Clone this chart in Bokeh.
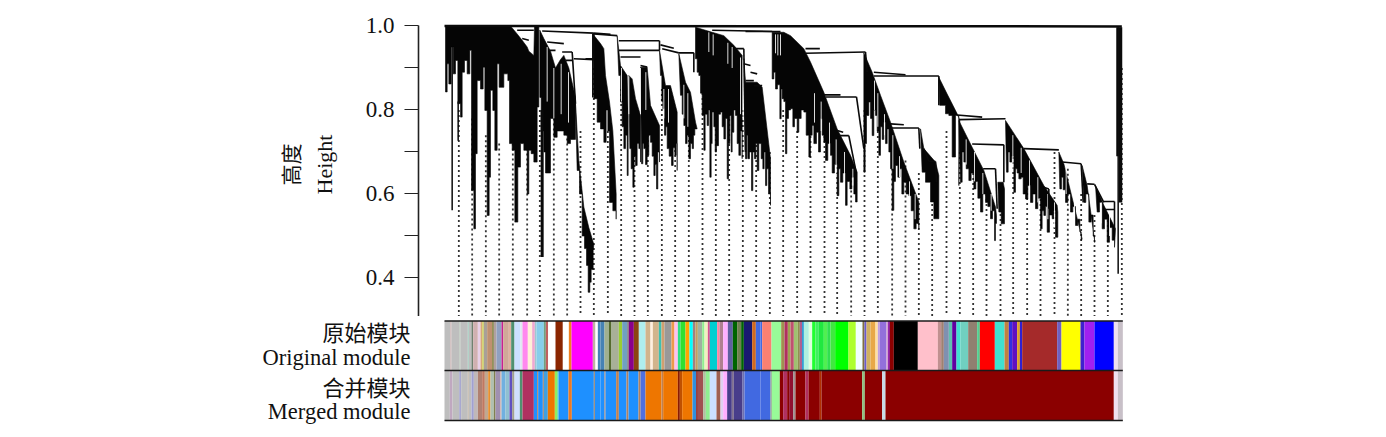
from bokeh.core.properties import value
from bokeh.embed import file_html
from bokeh.layouts import column
from bokeh.models import FixedTicker, LinearAxis, Range1d
from bokeh.plotting import figure
from bokeh.resources import INLINE

# ---- y axis
tick_values = [1.0, 0.9, 0.8, 0.7, 0.6, 0.5, 0.4]
tick_labels = ["1.0", "", "0.8", "", "0.6", "", "0.4"]

# ---- colour rows: module colour and number of genes (left to right)
orig_colors = [
 "#bebebe","#c9a9a9","#bebebe","#b0c0b0","#bebebe","#a0d0c0","#bebebe","#708070","#d0b0b0","#e8d0e8",
 "#d8a878","#d0d060","#a8a098","#c09070","#808040","#b0a0a0","#90a0c0","#c82090","#d0a898","#e0b0a0",
 "#509070","#cce0ff","#e0e8f0","#ff88ee","#fff0d8","#f0a8d0","#a0c8d0","#87ceeb","#70a080","#c06060",
 "#ffffff","#8b2500","#ffffff","#ee8020","#ff00ff","#c0b0a0","#ffffff","#4682b4",
 "#4682b4","#a0b090","#556b2f","#a8b098","#9acd32","#70a0c0","#808080","#8b008b","#8b4510","#afeeee",
 "#d2b48c","#fff0e0","#d2b48c","#40c0b0","#d0a070","#999999","#ee9a49","#ffc0f0","#30e080","#30e030",
 "#ffa500","#00ffff","#a08080","#c0a060","#a0b0a0","#90ee90","#f0f0c0","#d85090","#00ced1","#ff80a0",
 "#b08090","#ffb0ff","#6060a0","#006400","#708050","#006400","#191970","#d2691e","#4169e1",
 "#4169e1","#fa8072","#98fb98","#a09050","#b03060","#a0a050","#c05070","#a0c070","#909050","#b06090",
 "#1090d0","#b0f0e0","#e0ffe0","#20ff30","#40f060","#20e840","#50f050","#30e050","#40e840","#00ff00",
 "#adff2f","#f0ffff","#807040","#6a5acd","#d0b060","#e8a848","#ffe0a0","#c0a0e0","#9370db","#d0a0d0",
 "#8000a0","#8b0000","#000000",
 "#ffc0cb","#c09090","#a08070","#8090b0","#60c0b0","#6000a0","#40e0d0","#70d0c0","#908070","#50d090",
 "#ff0000","#40e0d0","#c08040","#3030e0","#6010c0","#e0a020","#3020d0","#a52a2a","#7060c0","#ffff00",
 "#4020d0","#a020f0","#0000ff","#f0e0f0","#c8c0c8",
]
orig_sizes = [
 18,3,24,3,22,3,8,5,14,8,5,5,10,15,5,8,15,5,17,7,10,18,6,16,13,8,5,22,6,7,22,22,18,8,64,8,7,8,
 12,13,8,22,10,15,5,15,15,20,15,7,18,8,9,21,9,10,8,15,12,10,8,7,13,7,10,6,22,7,11,14,15,13,12,8,25,11,14,
 5,28,29,10,10,8,10,12,6,7,5,15,10,10,10,15,10,10,14,40,22,20,6,6,12,15,7,6,20,5,5,12,72,
 60,10,8,15,10,13,12,23,27,8,45,29,13,10,15,8,7,105,13,57,12,30,58,12,15,
]
merged_colors = [
 "#bebebe","#c0a8c0","#bebebe","#a8a8d0","#bebebe","#c8b8a8","#bebebe","#a0a0d0","#c0b8b8","#b08070",
 "#c07860","#c0a890","#e89030","#b0c0b0","#808050","#a090b0","#d8b0a0","#70b0e0","#90c0d0","#6050c0",
 "#a0a090","#d0e0ff","#509070","#b03060","#1e90ff","#b08060","#1e90ff","#b08060","#40a0e0","#ee7600",
 "#90ee60","#60e0a0","#1e90ff","#ee7a20","#1e90ff","#b08050","#1e90ff",
 "#1e90ff","#b08060","#1e90ff","#c08050","#1e90ff","#b08060","#1e90ff","#b08060","#4f70e0","#ee7600",
 "#c08050","#ee7600","#8b1a00","#c05000","#ee7600","#3090e0","#8b2020","#a05050","#b0c0a0","#90ee90",
 "#cce0ff","#a06050","#e0d0f0","#ffb0ff","#483d8b","#807090","#483d8b","#7070b0","#4169e1",
 "#4169e1","#90a090","#98fb98","#8b0000","#b03060","#8b0000","#901030","#a09090","#8b0000","#b03060",
 "#8b0000","#b03000","#8b0000","#90c080","#8b0000","#c8dce8","#8b0000","#f0e0f0","#c8c0c8",
]
merged_sizes = [
 16,8,20,6,20,3,8,7,12,13,8,10,7,10,5,15,3,12,12,8,7,16,8,34,10,3,14,3,12,21,7,4,30,10,66,3,17,
 12,3,32,8,23,6,30,6,15,48,5,44,6,7,31,11,5,16,8,12,20,12,8,12,14,6,25,7,48,
 30,4,24,10,12,6,12,7,30,9,34,5,122,8,52,10,685,12,15,
]

# ---- dendrogram: black branch masses, (gene, height) along top and along the lower edge
tree_tops = [
 [(3,1.0),(198,1.0),(218,.981),(233,.966),(248,.95),(253,.94),(268,.93),(270,.999),(283,.999)],
 [(286,.99),(298,.97),(318,.94),(333,.90),(348,.92),(358,.93),(373,.90),(393,.83)],
 [(393,.815),(403,.68),(418,.569),(433,.52),(448,.48)],
 [(445,.981),(468,.958),(478,.946),(483,.882),(495,.819),(505,.75),(515,.6)],
 [(518,.977),(528,.906),(548,.882),(551,.787)],
 [(553,.882),(563,.874),(573,.827),(588,.787)],
 [(588,.902),(608,.902),(618,.811),(645,.763)],
 [(645,.942),(663,.858),(678,.858),(698,.795)],
 [(703,.934),(723,.866),(738,.842),(753,.771)],
 [(753,.997),(803,.985),(838,.977),(868,.954),(893,.93)],
 [(898,.922),(903,.866),(938,.866),(953,.854),(978,.684)],
 [(983,.985),(1018,.985),(1038,.977),(1078,.946),(1098,.914),(1138,.842),(1178,.755),(1218,.692),(1238,.652)],
 [(1258,.936),(1283,.89),(1308,.835),(1338,.771),(1378,.676),(1423,.581)],
 [(1428,.755),(1438,.708),(1473,.676),(1483,.644)],
 [(1483,.878),(1508,.838),(1538,.791),(1546,.775)],
 [(1543,.775),(1583,.711),(1618,.656),(1653,.569)],
 [(1660,.628),(1676,.628)],
 [(1683,.775),(1738,.708),(1798,.62),(1838,.573)],
 [(1843,.70),(1858,.672),(1913,.493)],
 [(1913,.668),(1928,.62),(1951,.485)],
 [(1953,.62),(1978,.573),(2013,.517)],
]
tree_lows = [
 [(3,.843),(8,.91),(13,.862),(20,.95),(26,.886),(33,.918),(40,.815),(48,.783),(53,.89),(60,.918),(68,.886),
  (76,.942),(81,.608),(88,.517),(93,.696),(98,.87),(108,.85),(116,.902),(121,.799),(128,.549),(134,.64),
  (138,.847),(145,.799),(151,.704),(158,.91),(164,.854),(178,.886),(190,.87),(195,.72),(203,.704),(211,.533),
  (220,.664),(228,.72),(238,.704),(248,.6),(253,.704),(260,.696),(268,.676),(278,.807),(283,.878)],
 [(286,.83),(290,.75),(298,.70),(303,.65),(318,.78),(328,.735),(338,.75),(348,.75),(358,.74),(368,.72),(378,.73),(393,.76)],
 [(398,.656),(405,.60),(413,.50),(420,.47),(426,.43),(431,.366),(436,.39),(440,.42),(446,.465)],
 [(448,.827),(458,.771),(468,.755),(478,.723),(485,.8),(490,.75),(495,.58),(505,.56),(515,.54)],
 [(523,.882),(528,.819),(533,.76),(538,.708),(543,.74),(548,.644),(551,.723)],
 [(556,.708),(560,.66),(565,.616),(569,.69),(573,.668),(578,.72),(583,.708),(588,.676)],
 [(591,.672),(595,.72),(598,.708),(603,.67),(608,.692),(613,.74),(618,.723),(623,.69),(628,.644),(632,.67),(636,.612),(640,.70),(645,.676)],
 [(648,.882),(652,.82),(655,.803),(660,.74),(664,.76),(668,.708),(674,.69),(681,.668),(686,.71),(691,.692),(695,.72),(698,.656)],
 [(708,.835),(713,.79),(718,.763),(723,.72),(728,.74),(733,.684),(738,.72),(743,.708),(747,.74),(751,.755),(758,.755)],
 [(753,.922),(758,.89),(763,.882),(768,.84),(773,.787),(778,.704),(782,.79),(788,.763),(792,.80),(796,.64),(800,.72),
  (803,.795),(808,.76),(812,.70),(816,.715),(822,.79),(828,.795),(833,.76),(838,.731),(843,.78),(848,.636),(852,.72),
  (856,.787),(860,.70),(863,.747),(868,.80),(873,.787),(878,.72),(883,.692),(888,.75),(893,.684)],
 [(903,.684),(907,.74),(910,.684),(915,.70),(921,.608),(925,.70),(930,.684),(934,.72),(938,.656),(943,.72),(950,.684),
  (955,.66),(959,.70),(963,.62),(967,.66),(972,.60),(978,.573)],
 [(983,.874),(988,.89),(993,.85),(999,.86),(1006,.779),(1010,.85),(1013,.827),(1018,.82),(1023,.696),(1027,.78),(1032,.80),
  (1038,.803),(1045,.76),(1050,.78),(1058,.747),(1063,.78),(1070,.80),(1078,.795),(1085,.74),(1093,.688),(1098,.74),
  (1103,.763),(1108,.72),(1116,.747),(1122,.70),(1128,.779),(1133,.74),(1138,.723),(1143,.68),(1150,.72),(1158,.692),
  (1163,.65),(1170,.67),(1178,.596),(1183,.66),(1188,.628),(1195,.65),(1203,.573),(1208,.63),(1216,.612),(1222,.64),
  (1228,.60),(1233,.581),(1238,.628)],
 [(1258,.652),(1262,.72),(1266,.787),(1273,.819),(1278,.78),(1283,.739),(1288,.80),(1293,.787),(1298,.75),(1303,.692),
  (1308,.76),(1313,.73),(1318,.771),(1323,.72),(1328,.755),(1333,.70),(1338,.66),(1343,.561),(1348,.63),(1353,.668),
  (1360,.64),(1366,.66),(1372,.60),(1378,.628),(1385,.60),(1393,.596),(1400,.56),(1408,.517),(1415,.53),(1423,.517)],
 [(1433,.652),(1443,.628),(1458,.581),(1468,.541),(1483,.573)],
 [(1486,.811),(1503,.791),(1513,.787),(1523,.688),(1533,.787),(1543,.62)],
 [(1548,.628),(1553,.70),(1558,.676),(1565,.66),(1573,.632),(1580,.65),(1588,.612),(1594,.63),(1600,.59),(1608,.557),
  (1615,.60),(1623,.58),(1630,.57),(1638,.541),(1644,.56),(1650,.489),(1653,.53),(1656,.549)],
 [(1663,.557),(1670,.529),(1680,.612)],
 [(1686,.652),(1691,.70),(1696,.676),(1702,.69),(1708,.604),(1713,.66),(1718,.65),(1723,.636),(1730,.64),(1736,.60),
  (1743,.588),(1750,.62),(1758,.58),(1765,.60),(1773,.565),(1780,.59),(1788,.517),(1793,.56),(1798,.549),(1803,.57),
  (1808,.509),(1815,.55),(1823,.541),(1828,.56),(1833,.497),(1840,.557)],
 [(1846,.612),(1851,.64),(1856,.61),(1863,.58),(1870,.60),(1878,.557),(1885,.57),(1893,.525),(1900,.54),(1906,.51),(1910,.489)],
 [(1918,.58),(1924,.60),(1933,.533),(1940,.55),(1946,.50),(1950,.485)],
 [(1958,.557),(1965,.58),(1973,.517),(1980,.54),(1988,.485),(1995,.52),(2003,.49),(2010,.473)],
]

# ---- white slivers seen inside the branch masses: gene, upper and lower height
gap_x = [308,328,350,372,531,553,588,604,658,672,718,730,793,806,850,863,888,896,993,1000,1008,
         1110,1130,1155,1175,1200,1225,1290,1300,1320,1345,1365,1395,1412,1565,1590,1615,1640,
         1705,1730,1755,1780,1810,1830,1865,1890,1970,1995]
gap_top = [.95,.90,.91,.89,.90,.88,.90,.89,.85,.85,.86,.84,.985,.98,.96,.95,.925,.92,.98,.98,.98,
           .84,.82,.77,.73,.70,.66,.87,.84,.79,.74,.69,.63,.60,.73,.70,.65,.60,
           .74,.71,.68,.64,.60,.58,.66,.58,.58,.55]
gap_bottom = [.82,.78,.79,.77,.82,.79,.79,.80,.78,.77,.78,.76,.938,.93,.91,.90,.79,.78,.935,.93,.93,
              .77,.75,.70,.65,.64,.62,.80,.76,.74,.66,.64,.59,.54,.67,.63,.60,.56,
              .66,.65,.60,.58,.54,.52,.60,.54,.53,.50]

# ---- dendrogram: root line and merge links (x0, h0, x1, h1)
root_x = [0, 2032]
root_h = [1.0, .999]
tree_links = [
 (218,.99,268,.99),(233,.97,253,.966),(293,.988,448,.983),(308,.962,358,.958),(313,.942,333,.942),
 (353,.938,383,.938),(363,.918,383,.918),(388,.922,448,.92),(383,.938,393,.815),(448,.983,448,.92),
 (448,.983,498,.98),(423,.922,445,.922),(445,.981,445,.83),(448,.981,518,.977),(523,.965,645,.965),
 (645,.965,645,.942),(523,.942,645,.942),(528,.926,588,.926),(588,.906,608,.902),(648,.955,688,.947),
 (653,.946,703,.936),(703,.936,748,.936),(748,.936,748,.89),(803,.99,983,.987),
 (868,.946,898,.946),(898,.91,918,.906),(918,.89,938,.886),(903,.87,928,.87),(928,.858,953,.858),
 (903,.987,1008,.987),(898,.946,903,.7),
 (1083,.946,1126,.946),(1083,.935,1263,.938),(1263,.938,1268,.89),(1288,.89,1383,.884),(1288,.881,1483,.881),
 (1483,.881,1483,.811),(1338,.767,1378,.765),(1338,.757,1423,.757),(1423,.757,1426,.708),(1453,.678,1473,.677),
 (1473,.677,1476,.628),(1438,.708,1453,.678),(1538,.788,1613,.783),(1543,.777,1683,.779),(1583,.719,1678,.717),
 (1678,.717,1678,.628),(1616,.66,1653,.66),(1653,.66,1658,.565),(1138,.836,1188,.836),(1143,.831,1236,.831),
 (1236,.831,1258,.708),(1178,.751,1196,.747),(1183,.739,1213,.739),(1213,.739,1235,.652),(1738,.708,1843,.705),
 (1853,.676,1910,.672),(1910,.672,1916,.58),(1928,.624,1950,.623),(1950,.623,1978,.58),(1978,.582,2010,.582),
 (2010,.582,2010,.517),(1978,.563,2010,.563),(1798,.616,1813,.612),(1813,.612,1813,.565),
]

# ---- long single branches
spike_x = [23, 41, 293, 2019, 2021, 2028]
spike_top = [.95, .82, .80, .997, .997, .997]
spike_bottom = [.561, .727, .45, .69, .41, .58]

# ---- dotted guide lines from the tree to the colour rows
guide_x = [43,83,124,164,205,248,286,328,368,408,448,490,530,570,610,652,692,733,774,814,854,895,935,976,1016,
           1058,1098,1140,1178,1220,1260,1300,1343,1383,1423,1463,1506,1546,1586,1626,1668,1706,1748,1788,1830,
           1870,1910,1950,1990,2032]
guide_top = [.80,.78,.74,.72,.72,.72,.8,.78,.78,.75,.9,.75,.85,.8,.8,.85,.8,.8,.9,.85,.85,.8,.8,.7,.8,
             .75,.75,.75,.7,.68,.8,.75,.72,.68,.65,.6,.75,.7,.65,.6,.6,.7,.65,.6,.7,.66,.6,.55,.55,.9]
GUIDE_BOTTOM = 0.3083

assert len(orig_colors) == len(orig_sizes), (len(orig_colors), len(orig_sizes))
assert len(merged_colors) == len(merged_sizes), (len(merged_colors), len(merged_sizes))

SERIF = "Liberation Serif"
CJK = "Noto Sans CJK SC"

# ---- upper panel: axis and tree
p = figure(width=1140, height=316, output_backend="svg", toolbar_location=None,
           x_range=Range1d(-78, 2088), y_range=Range1d(0.3083, 1.0321),
           x_axis_location=None, y_axis_location=None,
           min_border_left=418, min_border_right=0, min_border_top=12, min_border_bottom=0,
           outline_line_color=None, frame_align=False)
p.grid.visible = False

yaxis = LinearAxis(ticker=FixedTicker(ticks=tick_values),
                   major_label_overrides=dict(zip(tick_values, tick_labels)),
                   bounds=(0.3083, 1.0), axis_label="Height")
yaxis.major_label_text_font = SERIF
yaxis.major_label_text_font_size = "23px"
yaxis.major_label_text_color = "#111111"
yaxis.major_label_orientation = "horizontal"
yaxis.major_label_standoff = 10
yaxis.major_tick_in = 0
yaxis.major_tick_out = 14
yaxis.major_tick_line_width = 1.2
yaxis.major_tick_line_color = "#222222"
yaxis.minor_tick_line_color = None
yaxis.axis_line_width = 1.6
yaxis.axis_line_color = "#222222"
yaxis.axis_label_text_font = SERIF
yaxis.axis_label_text_font_size = "22px"
yaxis.axis_label_text_font_style = "normal"
yaxis.axis_label_text_color = "#111111"
yaxis.axis_label_standoff = 26
p.add_layout(yaxis, "left")

cjk_axis = LinearAxis(ticker=FixedTicker(ticks=[]), axis_label="高度", axis_line_color=None,
                      major_tick_line_color=None, minor_tick_line_color=None, major_label_text_font_size="0px")
cjk_axis.axis_label_text_font = CJK
cjk_axis.axis_label_text_font_size = "21px"
cjk_axis.axis_label_text_font_style = "normal"
cjk_axis.axis_label_text_color = "#111111"
cjk_axis.axis_label_standoff = 4
p.add_layout(cjk_axis, "left")

p.segment(x0=guide_x, x1=guide_x, y0=guide_top, y1=[GUIDE_BOTTOM] * len(guide_x),
          line_color="#333333", line_width=1.8, line_dash="2 3")

xs, ys = [], []
for top, low in zip(tree_tops, tree_lows):
    x = [a for a, _ in top]
    y = [b for _, b in top]
    steps = []
    for i, (a, b) in enumerate(low):
        steps.append((a, b))
        if i + 1 < len(low):
            steps.append((low[i + 1][0], b))
    for a, b in reversed(steps):
        x.append(a)
        y.append(b)
    xs.append(x)
    ys.append(y)
p.patches(xs, ys, fill_color="#050505", line_color="#050505", line_width=0.6)
p.segment(x0=gap_x, x1=gap_x, y0=gap_top, y1=gap_bottom, line_color="white", line_width=1, line_alpha=0.85)

p.line(root_x, root_h, line_color="#0a0a0a", line_width=2.5)
p.segment(x0=[l[0] for l in tree_links], y0=[l[1] for l in tree_links],
          x1=[l[2] for l in tree_links], y1=[l[3] for l in tree_links],
          line_color="#0a0a0a", line_width=1.6)
p.segment(x0=spike_x, x1=spike_x, y0=spike_top, y1=spike_bottom, line_color="#0a0a0a",
          line_width=[1.5, 1.5, 3, 2.5, 1.5, 3.5])

# ---- lower panel: colour rows and their labels
q = figure(width=1140, height=109, output_backend="svg", toolbar_location=None,
           x_range=Range1d(-1332, 2088), y_range=Range1d(0.0488, 0.3083),
           x_axis_location=None, y_axis_location=None,
           min_border_left=0, min_border_right=0, min_border_top=0, min_border_bottom=0,
           outline_line_color=None, frame_align=False)
q.grid.visible = False


def row(colors, sizes, top, bottom):
    left, right = [], []
    pos = 0
    for s in sizes:
        left.append(pos)
        pos += s
        right.append(pos)
    q.quad(left=left, right=right, top=top, bottom=bottom, fill_color=colors, line_color=None)


ROW_TOP, ROW_MID, ROW_BOTTOM = 0.2976, 0.1798, 0.0607
row(orig_colors, orig_sizes, ROW_TOP, ROW_MID)
row(merged_colors, merged_sizes, ROW_MID, ROW_BOTTOM)
q.segment(x0=[0, 0, 0], x1=[2035, 2035, 2035], y0=[ROW_TOP, ROW_MID, ROW_BOTTOM], y1=[ROW_TOP, ROW_MID, ROW_BOTTOM],
          line_color="#1a1a1a", line_width=1.6)

q.text(x=[-102], y=[0.2726], text=["原始模块"], text_font=value(CJK), text_font_size="22px",
       text_align="right", text_baseline="middle", text_color="#111111")
q.text(x=[-102], y=[0.2107], text=["Original module"], text_font=value(SERIF), text_font_size="22.5px",
       text_align="right", text_baseline="middle", text_color="#111111")
q.text(x=[-102], y=[0.144], text=["合并模块"], text_font=value(CJK), text_font_size="22px",
       text_align="right", text_baseline="middle", text_color="#111111")
q.text(x=[-102], y=[0.082], text=["Merged module"], text_font=value(SERIF), text_font_size="22.5px",
       text_align="right", text_baseline="middle", text_color="#111111")

layout = column(p, q, spacing=0)
open("out.html", "w").write(file_html(layout, INLINE))
